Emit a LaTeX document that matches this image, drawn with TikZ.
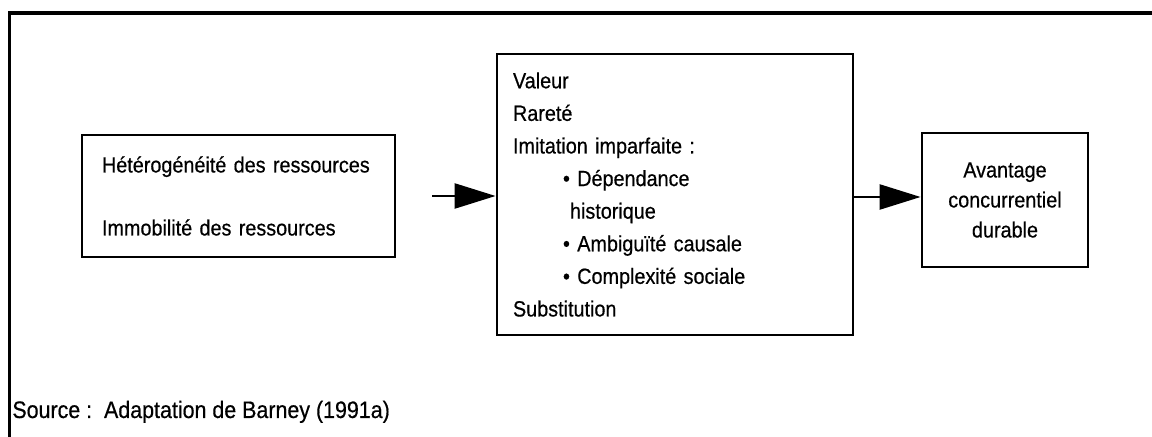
\documentclass[tikz,border=0pt]{standalone}
\usepackage{fontspec}
\setmainfont{Liberation Sans}[FakeStretch=0.9,FakeBold=0.5]
\usetikzlibrary{arrows.meta}
\begin{document}
\begin{tikzpicture}[x=0.5pt,y=-0.5pt,
  box/.style={draw,line width=1.4pt,inner ysep=0pt},
  flow/.style={line width=1.2pt,-{Triangle[length=20.5pt,width=12.5pt]}}]
\useasboundingbox (0,0) rectangle (1152,437);
% open frame: top and left rules only
\draw[line width=1.6pt] (1152,13) -- (9.5,13) -- (9.5,437);

\node[box, text width=136.5pt, inner xsep=10pt, minimum height=61pt, align=left,
      font=\fontsize{11}{31.5}\selectfont] (res) at (238.5,196)
  {Hétérogénéité des ressources\\Immobilité des ressources};

\node[box, text width=162pt, inner xsep=8pt, minimum height=140.5pt, align=left,
      font=\fontsize{11}{16.3}\selectfont] (vrio) at (675,194.5)
  {Valeur\\Rareté\\Imitation imparfaite :\\
   \hspace*{25pt}\textbullet\ Dépendance\\
   \hspace*{28.5pt}historique\\
   \hspace*{25pt}\textbullet\ Ambiguïté causale\\
   \hspace*{25pt}\textbullet\ Complexité sociale\\
   Substitution};

\node[box, text width=67pt, inner xsep=8pt, minimum height=67pt, align=center,
      font=\fontsize{11}{15}\selectfont] (adv) at (1005,200)
  {Avantage\\concurrentiel\\durable};

\node[anchor=base west, inner sep=0pt, font=\fontsize{11.9}{14}\selectfont] (src) at (12,418)
  {Source :\ \ Adaptation de Barney (1991a)};

\coordinate (in) at (432,196);
\coordinate (lvl) at (0,197);
\draw[flow] (in) -- (in -| vrio.west);
\draw[flow] (vrio.east |- lvl) -- (adv.west |- lvl);
\end{tikzpicture}
\end{document}
